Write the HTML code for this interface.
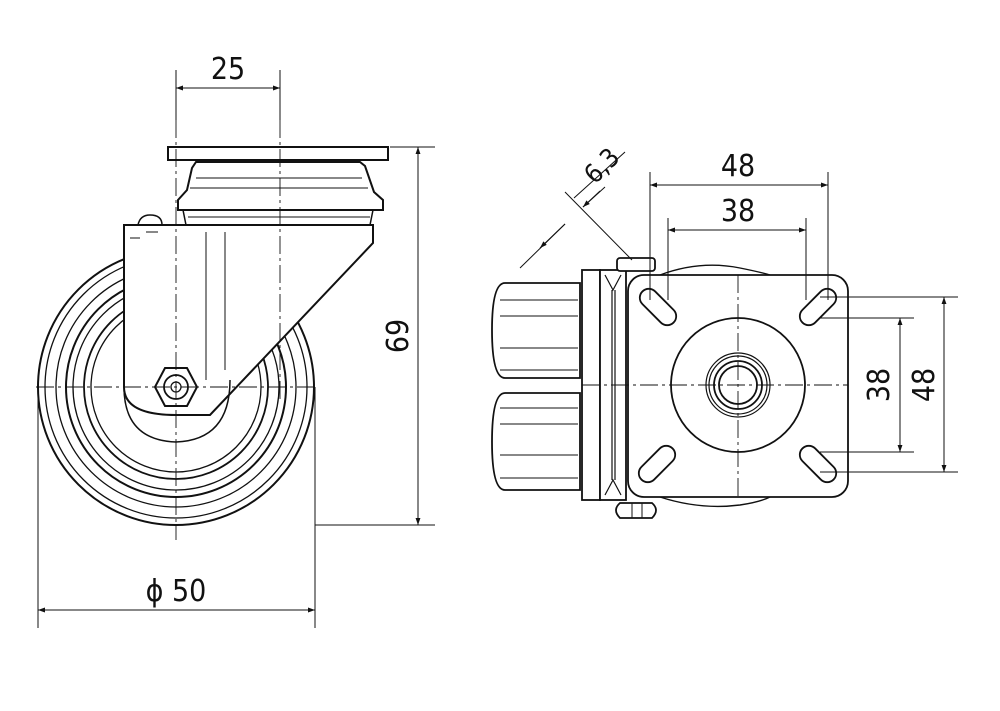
<!DOCTYPE html>
<html><head><meta charset="utf-8"><style>html,body{margin:0;padding:0;background:#fff}svg{display:block}</style></head><body>
<svg width="1000" height="711" viewBox="0 0 1000 711" xmlns="http://www.w3.org/2000/svg">
<defs>
<marker id="a" viewBox="0 0 10 10" refX="10" refY="5" markerWidth="14" markerHeight="7" orient="auto-start-reverse" markerUnits="userSpaceOnUse"><path d="M0,1.5 L10,5 L0,8.5 z" fill="#111"/></marker>
</defs>
<g fill="none" stroke="#111" stroke-width="1.3">
<circle cx="176" cy="387" r="138" stroke-width="2"/>
<circle cx="176" cy="387" r="131"/>
<circle cx="176" cy="387" r="120"/>
<circle cx="176" cy="387" r="110" stroke-width="2"/>
<circle cx="176" cy="387" r="103"/>
<circle cx="176" cy="387" r="92" stroke-width="1.8"/>
<circle cx="176" cy="387" r="85"/>
<path d="M124,225 L373,225 L373,243 L210,415 L176,415 Q124,415 124,387 Z" fill="#fff" stroke-width="2"/>
<path d="M124,387 Q124,440 176,442 Q230,440 230,380" stroke-width="1.5"/>
<path d="M206,232 L206,380 M225,232 L225,370" stroke-width="1"/>
<path d="M138,225 Q140,215 150,215 Q162,215 162,225" stroke-width="1.5"/>
<path d="M130,238 L140,238 M146,232 L158,232" stroke-width="1"/>
<path d="M183,210 L186,225 M373,210 L370,225" stroke-width="1.5"/>
<path d="M180,210 L383,210 L383,200 L374,192 L365,166 L360,162 L196,162 L192,168 L187,190 L178,200 L178,210 Z" fill="#fff" stroke-width="2"/>
<path d="M196,178 L362,178 M190,188 L368,188 M188,217 L370,217" stroke-width="1"/>
<rect x="168" y="147" width="220" height="13" fill="#fff" stroke-width="2"/>
<polygon points="155,387 165,368 187,368 197,387 187,406 165,406" fill="#fff" stroke-width="2"/>
<circle cx="176" cy="387" r="12" stroke-width="1.8"/>
<circle cx="176" cy="387" r="5"/>
</g>
<g stroke="#111" stroke-width="0.9" stroke-dasharray="18,4,3,4" fill="none">
<line x1="176" y1="120" x2="176" y2="540"/>
<line x1="280" y1="120" x2="280" y2="400"/>
<line x1="36" y1="387" x2="318" y2="387"/>
</g>
<g stroke="#111" stroke-width="1" fill="none">
<line x1="176" y1="70" x2="176" y2="120"/><line x1="280" y1="70" x2="280" y2="120"/>
<line x1="176" y1="88" x2="280" y2="88" marker-start="url(#a)" marker-end="url(#a)"/>
<line x1="390" y1="147" x2="435" y2="147"/><line x1="315" y1="525" x2="435" y2="525"/>
<line x1="418" y1="147" x2="418" y2="525" marker-start="url(#a)" marker-end="url(#a)"/>
<line x1="38" y1="387" x2="38" y2="628"/><line x1="315" y1="387" x2="315" y2="628"/>
<line x1="38" y1="610" x2="315" y2="610" marker-start="url(#a)" marker-end="url(#a)"/>
</g>
<g font-family="DejaVu Sans Condensed, Liberation Sans, sans-serif" font-size="30" fill="#111">
<text x="228" y="79" text-anchor="middle">25</text>
<text transform="translate(408,336) rotate(-90)" text-anchor="middle">69</text>
<text x="176" y="601" text-anchor="middle">ϕ 50</text>
<text x="738" y="176" text-anchor="middle">48</text>
<text x="738" y="221" text-anchor="middle">38</text>
<text transform="translate(889,385) rotate(-90)" text-anchor="middle">38</text>
<text transform="translate(934,385) rotate(-90)" text-anchor="middle">48</text>
<text transform="translate(608,172) rotate(-45)" text-anchor="middle" font-size="26">6,3</text>
</g>
<g fill="none" stroke="#111" stroke-width="1.8">
<path d="M505,283 L580,283 L580,378 L505,378 Q492,378 492,330 Q492,283 505,283 Z" fill="#fff"/>
<path d="M505,393 L580,393 L580,490 L505,490 Q492,490 492,442 Q492,393 505,393 Z" fill="#fff"/>
<path d="M500,300 L578,300 M500,316 L578,316 M500,348 L578,348 M500,370 L578,370 M500,408 L578,408 M500,424 L578,424 M500,455 L578,455 M500,478 L578,478" stroke-width="1"/>
<rect x="582" y="270" width="18" height="230" fill="#fff"/>
<rect x="600" y="270" width="26" height="230" fill="#fff"/>
<path d="M605,275 L613,290 L621,275 M605,495 L613,480 L621,495 M612,290 L612,480 M615,290 L615,480" stroke-width="1.2"/>
<rect x="617" y="258" width="38" height="13" rx="3" fill="#fff"/>
<path d="M620,503 Q612,510 620,518 L652,518 Q660,510 652,503 Z" fill="#fff"/>
<path d="M632,503 L632,518 M642,503 L642,518" stroke-width="1"/>
<path d="M660,275 Q700,260 740,268 Q760,272 770,275 M660,497 Q700,510 740,505 Q760,502 770,497" stroke-width="1.4"/>
<rect x="628" y="275" width="220" height="222" rx="16" fill="#fff"/>
<circle cx="738" cy="385" r="67"/>
<circle cx="738" cy="385" r="32" stroke-width="1.2"/>
<circle cx="738" cy="385" r="29" stroke-width="1.2"/>
<circle cx="738" cy="385" r="24"/>
<circle cx="738" cy="385" r="19"/>
<g transform="translate(658,307) rotate(45)"><rect x="-22" y="-9" width="44" height="18" rx="9"/></g>
<g transform="translate(818,307) rotate(-45)"><rect x="-22" y="-9" width="44" height="18" rx="9"/></g>
<g transform="translate(657,464) rotate(-45)"><rect x="-22" y="-9" width="44" height="18" rx="9"/></g>
<g transform="translate(818,464) rotate(45)"><rect x="-22" y="-9" width="44" height="18" rx="9"/></g>
</g>
<g stroke="#111" stroke-width="0.9" stroke-dasharray="18,4,3,4" fill="none">
<line x1="738" y1="275" x2="738" y2="497"/>
<line x1="582" y1="385" x2="848" y2="385"/>
</g>
<g stroke="#111" stroke-width="1" fill="none">
<line x1="650" y1="172" x2="650" y2="300"/><line x1="828" y1="172" x2="828" y2="300"/>
<line x1="650" y1="185" x2="828" y2="185" marker-start="url(#a)" marker-end="url(#a)"/>
<line x1="668" y1="218" x2="668" y2="300"/><line x1="806" y1="218" x2="806" y2="300"/>
<line x1="668" y1="230" x2="806" y2="230" marker-start="url(#a)" marker-end="url(#a)"/>
<line x1="820" y1="297" x2="958" y2="297"/><line x1="820" y1="472" x2="958" y2="472"/>
<line x1="944" y1="297" x2="944" y2="472" marker-start="url(#a)" marker-end="url(#a)"/>
<line x1="820" y1="318" x2="914" y2="318"/><line x1="820" y1="452" x2="914" y2="452"/>
<line x1="900" y1="318" x2="900" y2="452" marker-start="url(#a)" marker-end="url(#a)"/>
<line x1="565" y1="192" x2="632" y2="260"/>
<line x1="574" y1="198" x2="625" y2="152"/>
<line x1="520" y1="268" x2="565" y2="224"/>
<line x1="565" y1="224" x2="540" y2="248" marker-end="url(#a)"/>
<line x1="583" y1="207" x2="605" y2="187"/>
<line x1="583" y1="207" x2="600" y2="191" marker-start="url(#a)"/>
</g>
</svg>
</body></html>
